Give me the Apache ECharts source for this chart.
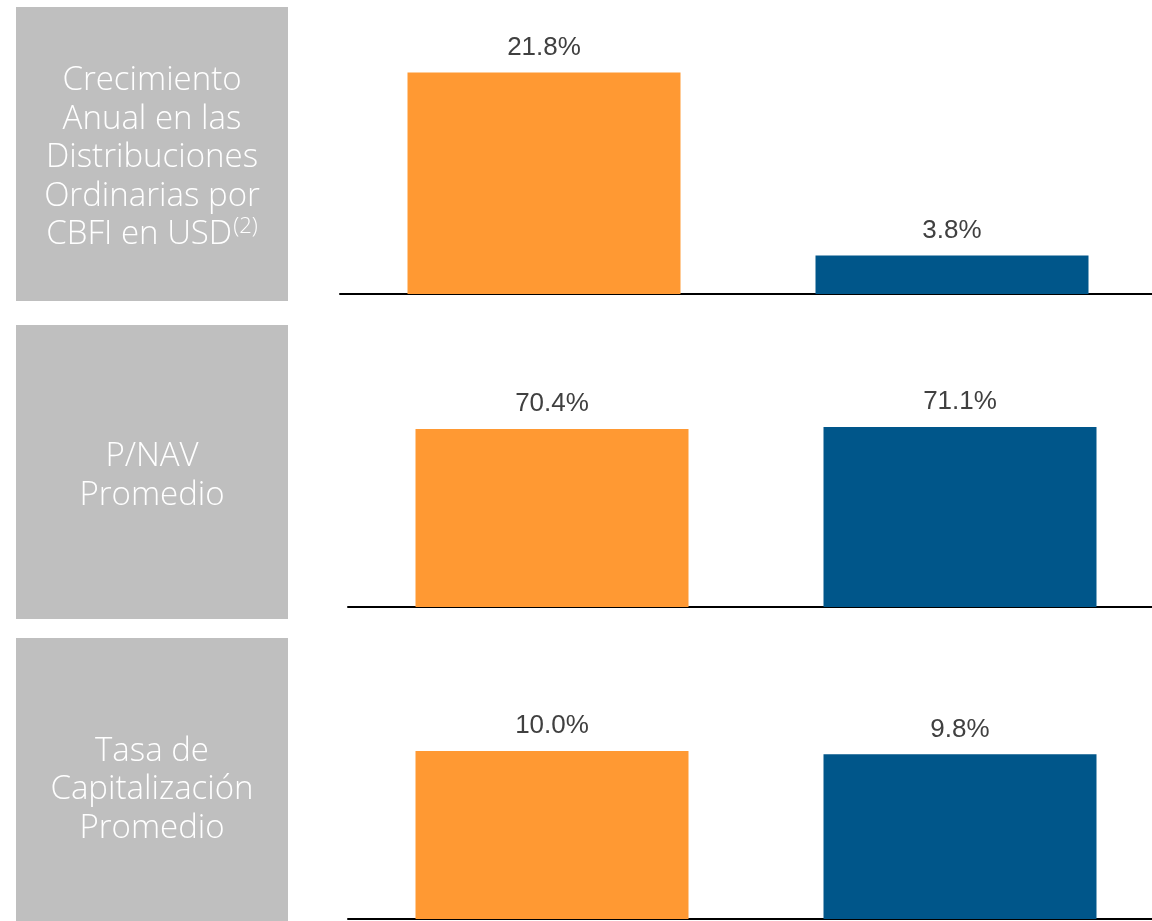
<!DOCTYPE html>
<html>
<head>
<meta charset="utf-8">
<script src="https://cdn.jsdelivr.net/npm/echarts@6/dist/echarts.min.js"></script>
<style>
  html, body { margin: 0; padding: 0; background: #ffffff; }
  #chart { width: 1152px; height: 921px; }
</style>
</head>
<body>
<div id="chart"></div>
<script>
// 数据
var rowTitles = [
  'Crecimiento\nAnual en las\nDistribuciones\nOrdinarias por\nCBFI en USD{sup|(2)}',
  'P/NAV\nPromedio',
  'Tasa de\nCapitalización\nPromedio'
];
var categories = ['A', 'B'];
var orangeValues = [21.8, 70.4, 10.0];
var blueValues = [3.8, 71.1, 9.8];
var axisMax = [25, 100, 15];

var colorList = ['#FF9933', '#00568A'];

// 布局
var grids = [
  { left: 340, top: 40, width: 816, height: 254, outerBoundsMode: 'none' },
  { left: 348, top: 354, width: 816, height: 253, outerBoundsMode: 'none' },
  { left: 348, top: 667, width: 816, height: 252, outerBoundsMode: 'none' }
];
var boxes = [
  { y: 7, h: 294, cy: 158 },
  { y: 325, h: 294, cy: 476 },
  { y: 638, h: 300, cy: 790 }
];

var chart = echarts.init(document.getElementById('chart'));

var xAxis = [], yAxis = [], series = [], graphic = [];
for (var i = 0; i < 3; i++) {
  xAxis.push({
    gridIndex: i,
    type: 'category',
    data: categories,
    axisLine: { show: true, lineStyle: { color: '#000000', width: 2 } },
    axisTick: { show: false },
    axisLabel: { show: false },
    splitLine: { show: false }
  });
  yAxis.push({
    gridIndex: i,
    type: 'value',
    min: 0,
    max: axisMax[i],
    show: false
  });
  series.push({
    type: 'bar',
    xAxisIndex: i,
    yAxisIndex: i,
    barWidth: 273,
    data: [orangeValues[i], blueValues[i]].map(function (v, k) {
      return { value: v, itemStyle: { color: colorList[k] } };
    }),
    label: {
      show: true,
      position: 'top',
      distance: 12,
      color: '#404040',
      fontSize: 26,
      fontFamily: '"Liberation Sans Narrow", "Liberation Sans", sans-serif',
      formatter: function (p) { return p.value.toFixed(1) + '%'; }
    },
    animation: false
  });
  graphic.push({
    type: 'rect',
    shape: { x: 16, y: boxes[i].y, width: 272, height: boxes[i].h },
    style: { fill: '#BFBFBF' },
    silent: true
  });
  graphic.push({
    type: 'text',
    x: 152,
    y: boxes[i].cy,
    style: {
      text: rowTitles[i],
      fill: '#ffffff',
      font: '300 33px "Open Sans", sans-serif',
      lineHeight: 38.5,
      align: 'center',
      verticalAlign: 'middle',
      rich: {
        sup: {
          fontSize: 22,
          fontFamily: '"Open Sans", sans-serif',
          fontWeight: 300,
          fill: '#ffffff',
          verticalAlign: 'top',
          lineHeight: 38.5,
          padding: [0, 0, 0, 1]
        }
      }
    },
    silent: true
  });
}

chart.setOption({
  animation: false,
  grid: grids,
  xAxis: xAxis,
  yAxis: yAxis,
  series: series,
  graphic: graphic
});
</script>
</body>
</html>
